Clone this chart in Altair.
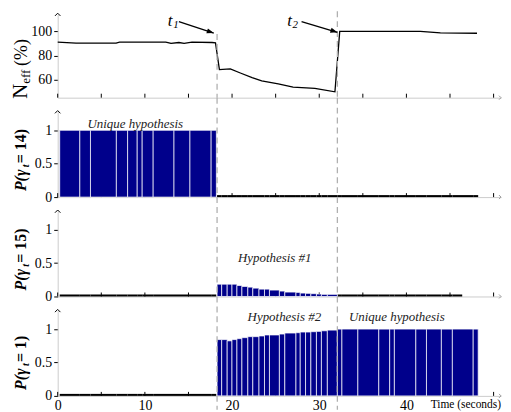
import altair as alt
import pandas as pd

FONT = "Liberation Serif, Times New Roman, serif"
NAVY = "#00008b"
DASH_COLOR = "#b0b0b0"
AXIS_GRAY = "#cccccc"

# ---------------- data ----------------
T_EVENTS = [18.28, 32.08]
X_MAX = 50.85
X_TICKS = [0, 5, 10, 15, 20, 25, 30, 35, 40, 45, 50]
X_LABELS = [0, 10, 20, 30, 40]

NEFF_T = [0, 2.1, 6.7, 7.1, 12.4, 13.0, 13.9, 14.5, 15.4, 17.7, 18.1, 18.55,
          19.8, 20.95, 22.3, 23.4, 25.3, 27.0, 29.5, 31.8, 32.35, 41.6, 43.9, 48.1]
NEFF_V = [91.2, 90.4, 90.4, 91.2, 91.2, 90.1, 90.9, 90.1, 91.2, 90.9, 90.6, 68.3,
          68.9, 65.5, 61.7, 58.9, 56.4, 53.7, 52.6, 49.8, 100.2, 100.2, 98.9, 98.6]

EDGES_PRE = [0.23, 2.54, 3.76, 6.73, 8.02, 9.12, 9.69, 10.95, 13.34, 15.17, 17.6, 18.2]
EDGES_MID = [18.28, 18.81, 19.44, 19.99, 20.56, 21.13, 21.81, 22.38, 23.09, 23.72, 24.29,
             25.43, 26.05, 27.33, 27.82, 28.43, 29.04, 29.68, 30.25, 30.93, 32.08]
EDGES_POST = [32.08, 32.6, 34.43, 36.83, 38.08, 38.62, 41.08, 42.3, 44.01, 45.27, 47.66, 48.23]
EDGES_POST15 = [32.08, 32.6, 34.43, 36.83, 38.08, 38.62, 41.08, 42.3, 44.01, 45.27, 46.4]

P14_PRE = [1.0, 1.0, 1.0, 1.0, 1.0, 1.0, 1.0, 1.0, 1.0, 1.0, 1.0]
P15_MID = [0.184, 0.184, 0.184, 0.184, 0.164, 0.15, 0.14, 0.125, 0.11, 0.11, 0.096,
           0.081, 0.066, 0.061, 0.051, 0.047, 0.042, 0.037, 0.032, 0.032]
P1_MID = [0.843, 0.843, 0.824, 0.843, 0.857, 0.872, 0.887, 0.887, 0.897, 0.912, 0.912,
          0.926, 0.941, 0.946, 0.956, 0.956, 0.961, 0.966, 0.975, 0.985]
P1_POST = [1.0, 1.0, 1.0, 1.0, 1.0, 1.0, 1.0, 1.0, 1.0, 1.0, 1.0]

ARROW_T0 = [13.9, 27.97]
ARROW_V0 = [108.3, 108.3]
ARROW_T1 = [17.9, 32.08]
ARROW_V1 = [98.8, 99.4]
T_LABEL_T = [12.9, 26.6]
T_LABEL_V = [108.5, 108.5]
T_LABEL_SUB = ["1", "2"]

ANN_TEXT = [["Unique hypothesis"], ["Hypothesis #1"], ["Hypothesis #2", "Unique hypothesis"]]
ANN_T = [[8.9], [24.9], [26.0, 38.9]]
ANN_V = [[1.10], [0.58], [1.18, 1.18]]

P_TITLES = ["14", "15", "1"]

W = 446
H1 = 84
H = 86
SP = 14

xs = alt.Scale(domain=[0, X_MAX], nice=False, zero=False)


def segs(edges, vals=None):
    rows = []
    for i in range(len(edges) - 1):
        r = {"s": edges[i], "e": edges[i + 1], "b": 0.0}
        if vals is not None:
            r["v"] = vals[i]
        rows.append(r)
    return pd.DataFrame(rows)


def xenc(field, labels):
    return alt.X(field, type="quantitative", scale=xs,
                 axis=alt.Axis(values=X_LABELS, labels=labels, ticks=False, domainColor=AXIS_GRAY,
                               grid=False, title=None, labelFont=FONT, labelFontSize=14,
                               labelColor="black", labelPadding=3, labelFlush=False))


def yenc(field, domain, values, fmt="~g"):
    return alt.Y(field, type="quantitative", scale=alt.Scale(domain=domain, nice=False, zero=False),
                 axis=alt.Axis(values=values, format=fmt, tickSize=4, tickColor="black",
                               domainColor=AXIS_GRAY, grid=False, title=None, labelFont=FONT,
                               labelFontSize=14, labelColor="black", labelPadding=2))


one = pd.DataFrame({"a": [0]})


def txt(text, x, y, size, weight="normal", style="normal", angle=270, align="left",
        baseline="alphabetic"):
    return alt.Chart(one).mark_text(text=text, font=FONT, fontSize=size, fontWeight=weight,
                                    fontStyle=style, angle=angle, align=align,
                                    baseline=baseline, color="black").encode(
        x=alt.value(x), y=alt.value(y))


def common(h, labels, extra_top=-SP, extra_bottom=0):
    tick_df = pd.DataFrame({"t": X_TICKS})
    ticks = alt.Chart(tick_df).mark_rule(color="black", strokeWidth=1).encode(
        x=xenc("t", labels), y=alt.value(h), y2=alt.value(h - 4))
    ev = pd.DataFrame({"t": T_EVENTS})
    dashed = alt.Chart(ev).mark_rule(color=DASH_COLOR, strokeWidth=1.3, strokeDash=[6, 4]).encode(
        x=xenc("t", labels), y=alt.value(extra_top), y2=alt.value(h + extra_bottom))
    caret = alt.Chart(one).mark_point(shape="M-1,1L0,0L1,1", size=30, filled=False,
                                      color="black", strokeWidth=1, opacity=1).encode(
        x=alt.value(0), y=alt.value(-1))
    caret_r = alt.Chart(one).mark_point(shape="M-1,-1L0,0L-1,1", size=16, filled=False,
                                        color="#999999", strokeWidth=1, opacity=1).encode(
        x=alt.value(W), y=alt.value(h))
    return ticks, dashed, caret, caret_r


def p_title(label):
    y0 = 80
    return [
        txt("P(γ", -32, y0, 16, "bold", "italic"),
        txt("t", -29, y0 - 24, 10, "bold", "italic"),
        txt(" = " + label + ")", -32, y0 - 28, 16, "bold"),
    ]


# ---------------- panel 1 ----------------
neff = pd.DataFrame({"t": NEFF_T, "v": NEFF_V})
y1dom = [44.9, 114.5]
Y1_VALUES = [60, 80, 100]
ticks1, _, caret1, caretr1 = common(H1, False)
line1 = alt.Chart(neff).mark_line(color="black", strokeWidth=1.3).encode(
    x=xenc("t", False), y=yenc("v", y1dom, Y1_VALUES, "d"))
dash_t1 = alt.Chart(pd.DataFrame({"t": [T_EVENTS[0]]})).mark_rule(
    color=DASH_COLOR, strokeWidth=1.3, strokeDash=[6, 4]).encode(
    x=xenc("t", False), y=alt.value(20), y2=alt.value(H1))
dash_t2 = alt.Chart(pd.DataFrame({"t": [T_EVENTS[1]]})).mark_rule(
    color=DASH_COLOR, strokeWidth=1.3, strokeDash=[6, 4]).encode(
    x=xenc("t", False), y=alt.value(-3), y2=alt.value(H1))
arr = pd.DataFrame({"t0": ARROW_T0, "v0": ARROW_V0, "t1": ARROW_T1, "v1": ARROW_V1})
shaft = alt.Chart(arr).mark_rule(color="black", strokeWidth=1.3).encode(
    x=xenc("t0", False), x2="t1", y=yenc("v0", y1dom, Y1_VALUES, "d"), y2="v1")
head = alt.Chart(arr).mark_point(shape="M0,0L-2,-0.75L-2,0.75Z", size=49, filled=True,
                                 color="black", opacity=1, angle=18).encode(
    x=xenc("t1", False), y=yenc("v1", y1dom, Y1_VALUES, "d"))
tl = pd.DataFrame({"t": T_LABEL_T, "v": T_LABEL_V, "sub": T_LABEL_SUB})
tlab = alt.Chart(tl).mark_text(text="t", font=FONT, fontSize=17, fontStyle="italic",
                               baseline="middle", align="center", color="black").encode(
    x=xenc("t", False), y=yenc("v", y1dom, Y1_VALUES, "d"))
tsub = alt.Chart(tl).mark_text(font=FONT, fontSize=11, fontStyle="italic", baseline="middle",
                               align="left", dx=3, dy=4, color="black").encode(
    x=xenc("t", False), y=yenc("v", y1dom, Y1_VALUES, "d"), text="sub:N")
title1 = [txt("N", -31, 85, 21), txt("eff", -28, 70, 13), txt("(%)", -31, 52, 18)]
p1 = alt.layer(line1, ticks1, dash_t1, dash_t2, shaft, head, tlab, tsub, caret1, caretr1,
               *title1).properties(width=W, height=H1)

# ---------------- bar panels ----------------
ydom = [0, 1.28]
yvals = [0, 0.5, 1]


def bar_panel(bar_dfs, zero_dfs, title_label, ann_idx, bottom):
    h = H
    ticks, dashed, caret, caretr = common(h, bottom, extra_top=-SP,
                                          extra_bottom=(14 if bottom else 0))
    layers = [ticks]
    for d in zero_dfs:
        layers.append(alt.Chart(d).mark_rule(color="black", strokeWidth=2).encode(
            x=xenc("s", bottom), x2="e", y=alt.value(h - 1)))
    for d in bar_dfs:
        layers.append(alt.Chart(d).mark_rect(color=NAVY, stroke="white", strokeWidth=0.7).encode(
            x=xenc("s", bottom), x2="e", y=yenc("v", ydom, yvals), y2="b"))
    ann = pd.DataFrame({"t": ANN_T[ann_idx], "v": ANN_V[ann_idx], "txt": ANN_TEXT[ann_idx]})
    layers.append(alt.Chart(ann).mark_text(font=FONT, fontSize=13, fontStyle="italic",
                                           color="#222222", baseline="middle").encode(
        x=xenc("t", bottom), y=yenc("v", ydom, yvals), text="txt:N"))
    layers += [dashed, caret, caretr]
    layers += p_title(title_label)
    if bottom:
        layers.append(txt("Time (seconds)", W, h + 12, 11.5, angle=0, align="right"))
    return alt.layer(*layers).properties(width=W, height=h)


p2 = bar_panel([segs(EDGES_PRE, P14_PRE)],
               [segs(EDGES_MID), segs(EDGES_POST)], P_TITLES[0], 0, False)
p3 = bar_panel([segs(EDGES_MID, P15_MID)],
               [segs(EDGES_PRE), segs(EDGES_POST15)], P_TITLES[1], 1, False)
p4 = bar_panel([segs(EDGES_MID, P1_MID), segs(EDGES_POST, P1_POST)],
               [segs(EDGES_PRE)], P_TITLES[2], 2, True)

chart = alt.vconcat(p1, p2, p3, p4, spacing=SP, bounds="flush").properties(
    padding={"left": 2, "top": 1, "right": 0, "bottom": 0},
    background="white",
).configure_view(stroke=None)

chart.save("out.html", embed_options={"renderer": "svg", "actions": False})
